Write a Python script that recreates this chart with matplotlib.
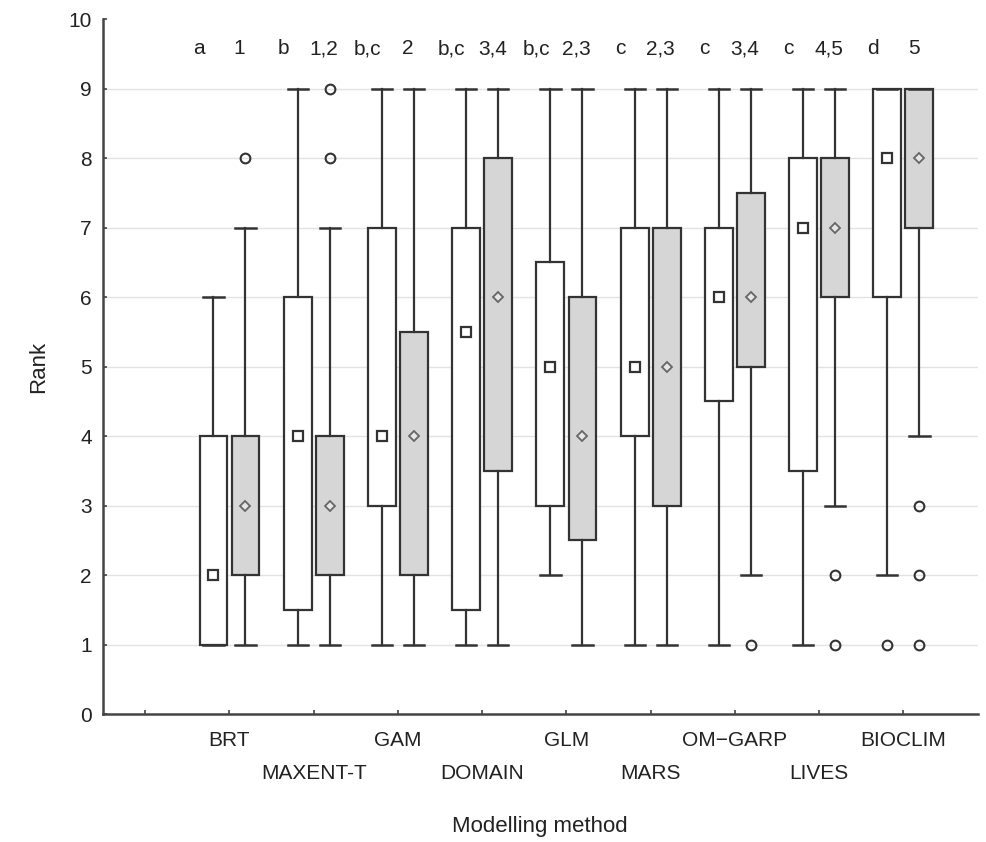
import matplotlib.pyplot as plt

plt.rcParams['font.family'] = ['Liberation Sans', 'DejaVu Sans']

# data: white = first group, grey = second group
methods = ['BRT', 'MAXENT-T', 'GAM', 'DOMAIN', 'GLM', 'MARS', 'OM\u2212GARP', 'LIVES', 'BIOCLIM']

white_q1 = [1, 1.5, 3, 1.5, 3, 4, 4.5, 3.5, 6]
white_q3 = [4, 6, 7, 7, 6.5, 7, 7, 8, 9]
white_med = [2, 4, 4, 5.5, 5, 5, 6, 7, 8]
white_lo = [1, 1, 1, 1, 2, 1, 1, 1, 2]
white_hi = [6, 9, 9, 9, 9, 9, 9, 9, 9]
white_out = [[], [], [], [], [], [], [], [], [1]]

grey_q1 = [2, 2, 2, 3.5, 2.5, 3, 5, 6, 7]
grey_q3 = [4, 4, 5.5, 8, 6, 7, 7.5, 8, 9]
grey_med = [3, 3, 4, 6, 4, 5, 6, 7, 8]
grey_lo = [1, 1, 1, 1, 1, 1, 2, 3, 4]
grey_hi = [7, 7, 9, 9, 9, 9, 9, 9, 9]
grey_out = [[8], [8, 9], [], [], [], [], [1], [1, 2], [1, 2, 3]]

white_groups = ['a', 'b', 'b,c', 'b,c', 'b,c', 'c', 'c', 'c', 'd']
grey_groups = ['1', '1,2', '2', '3,4', '2,3', '2,3', '3,4', '4,5', '5']

ink = '#333333'
txt = '#222222'


def make_stats(q1, q3, med, lo, hi, out):
    stats = []
    for i in range(len(q1)):
        stats.append({'q1': q1[i], 'q3': q3[i], 'med': med[i],
                      'whislo': lo[i], 'whishi': hi[i], 'fliers': out[i]})
    return stats


fig = plt.figure(figsize=(9.87, 8.42), dpi=100)
ax = fig.add_axes([0.1044, 0.152, 0.886, 0.825])

pos = list(range(1, len(methods) + 1))
off = 0.19
w = 0.33

for stats, shift, fill in [(make_stats(white_q1, white_q3, white_med, white_lo, white_hi, white_out), -off, 'white'),
                           (make_stats(grey_q1, grey_q3, grey_med, grey_lo, grey_hi, grey_out), off, '#d6d6d6')]:
    ax.bxp(stats, positions=[p + shift for p in pos], widths=w, patch_artist=True,
           boxprops=dict(facecolor=fill, edgecolor=ink, linewidth=1.6),
           whiskerprops=dict(color=ink, linewidth=1.6),
           capprops=dict(color=ink, linewidth=1.8),
           medianprops=dict(linewidth=0),
           flierprops=dict(marker='o', markersize=7, markerfacecolor='none',
                           markeredgecolor=ink, markeredgewidth=1.5),
           capwidths=0.24, zorder=3)

# median markers
ax.plot([p - off for p in pos], white_med, linestyle='none', marker='s', markersize=7,
        markerfacecolor='white', markeredgecolor=ink, markeredgewidth=1.6, zorder=4)
ax.plot([p + off for p in pos], grey_med, linestyle='none', marker='D', markersize=5.5,
        markerfacecolor='#e6e6e6', markeredgecolor='#666666', markeredgewidth=1.3, zorder=4)

# homogeneous group letters
for i, p in enumerate(pos):
    ax.text(p - 0.36, 9.58, white_groups[i], ha='center', va='center', fontsize=15, color=txt)
    ax.text(p + 0.12, 9.58, grey_groups[i], ha='center', va='center', fontsize=15, color=txt)

ax.set_xlim(-0.5, 9.88)
ax.set_ylim(0, 10)
ax.set_yticks(range(0, 11))
ax.set_xticks(range(0, len(methods) + 1))
ax.set_xticklabels([''] + methods)

for y in range(1, 10):
    ax.axhline(y, color='#e2e2e2', linewidth=1, zorder=0)

for s in ['top', 'right']:
    ax.spines[s].set_visible(False)
for s in ['left', 'bottom']:
    ax.spines[s].set_color('#444444')
    ax.spines[s].set_linewidth(1.8)

ax.tick_params(axis='y', direction='in', length=3, width=1.2, color='#444444',
               labelsize=15, labelcolor=txt, pad=8)
ax.tick_params(axis='x', direction='in', length=3, width=1.2, color='#444444',
               labelsize=15, labelcolor=txt)
ticks = ax.xaxis.get_major_ticks()
for i, t in enumerate(ticks):
    if i % 2 == 1:
        t.set_pad(12)
    else:
        t.set_pad(36)

ax.set_xlabel('Modelling method', fontsize=16, color=txt, labelpad=24)
ax.set_ylabel('Rank', fontsize=16, color=txt, labelpad=14)

fig.savefig('out.png', dpi=100, facecolor='white')
